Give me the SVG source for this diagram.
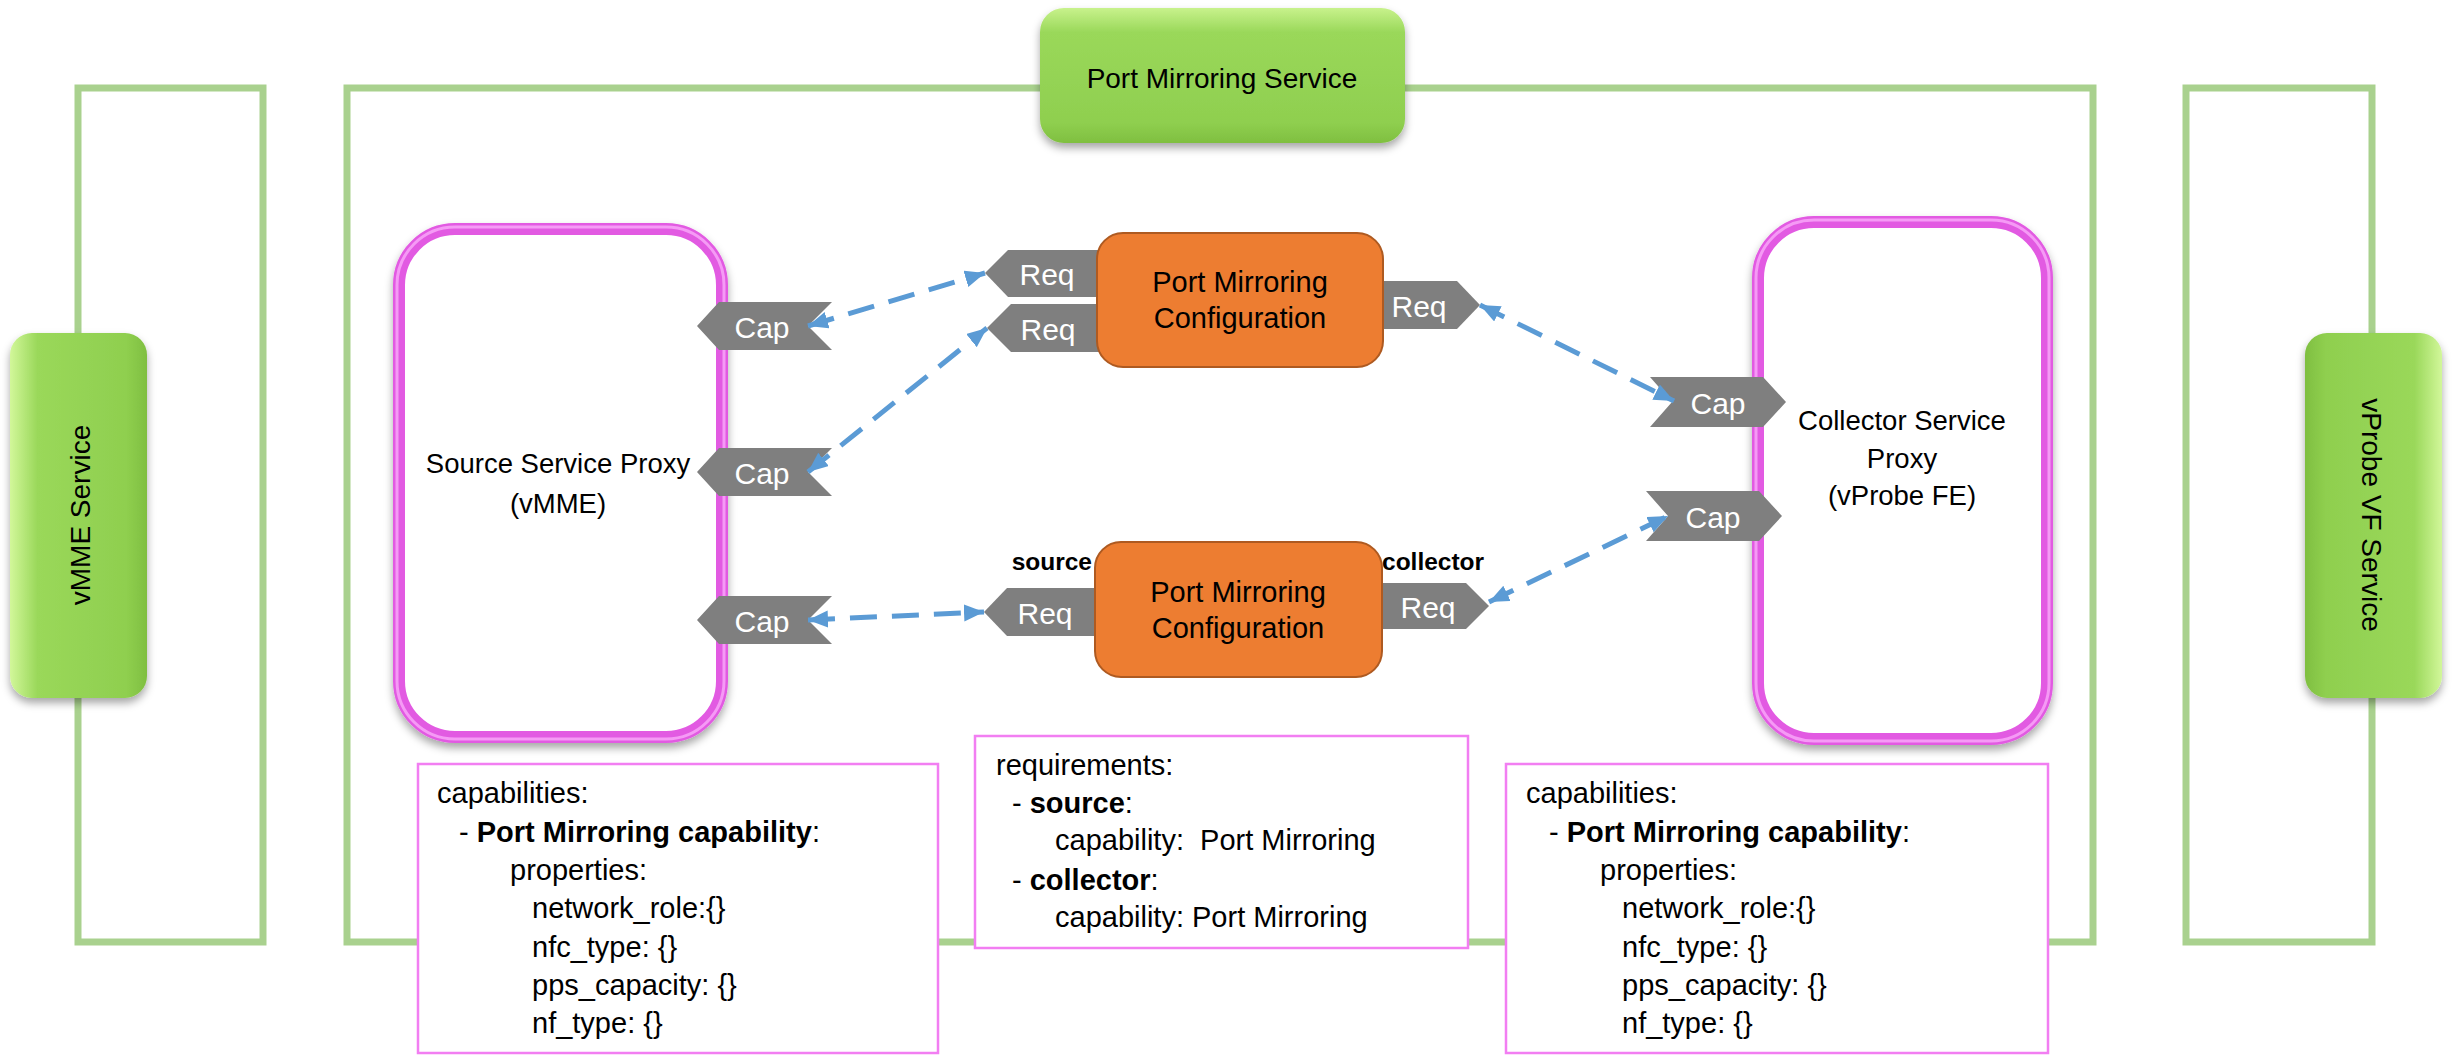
<svg xmlns="http://www.w3.org/2000/svg" width="2453" height="1055" viewBox="0 0 2453 1055">
<style>
text{font-family:"Liberation Sans",Arial,sans-serif;fill:#000}
.frame{fill:none;stroke:#a9d18e;stroke-width:7}
.svc{font-size:28px}
.proxy{fill:none;stroke:#e25ae2;stroke-width:12}
.proxyhl{fill:none;stroke:#f59af5;stroke-width:3}
.ptxt{font-size:27.5px;text-anchor:middle}
.cfg{fill:#ed7d31;stroke:#ae5a21;stroke-width:2}
.ctxt{font-size:29px;text-anchor:middle}
.tag{fill:#7f7f7f}
.ttxt{font-size:30px;fill:#fff;text-anchor:middle}
.box{fill:#fff;stroke:#f27ef2;stroke-width:2.5}
.btxt{font-size:29px;white-space:pre}
.b{font-weight:bold}
.lbl{font-size:24.5px;font-weight:bold}
.conn{fill:none;stroke:#5b9bd5;stroke-width:5;stroke-dasharray:27 15;marker-start:url(#ah);marker-end:url(#ah)}
</style>
<defs>
<linearGradient id="gH" x1="0" y1="0" x2="0" y2="1">
<stop offset="0" stop-color="#c8f28c"/><stop offset="0.18" stop-color="#9ad85a"/><stop offset="0.85" stop-color="#8fcf4f"/><stop offset="1" stop-color="#7fbf40"/>
</linearGradient>
<linearGradient id="gL" x1="0" y1="0" x2="1" y2="0">
<stop offset="0" stop-color="#d2f79a"/><stop offset="0.2" stop-color="#9ad85a"/><stop offset="0.85" stop-color="#8fcf4f"/><stop offset="1" stop-color="#7fbf40"/>
</linearGradient>
<linearGradient id="gR" x1="1" y1="0" x2="0" y2="0">
<stop offset="0" stop-color="#d2f79a"/><stop offset="0.2" stop-color="#9ad85a"/><stop offset="0.85" stop-color="#8fcf4f"/><stop offset="1" stop-color="#7fbf40"/>
</linearGradient>
<filter id="sh" x="-10%" y="-10%" width="120%" height="125%">
<feDropShadow dx="0" dy="5" stdDeviation="4" flood-color="#000" flood-opacity="0.35"/>
</filter>
<marker id="ah" markerUnits="userSpaceOnUse" markerWidth="22" markerHeight="18" refX="20" refY="8.5" orient="auto-start-reverse">
<path d="M0,0 L20,8.5 L0,17 Z" fill="#5b9bd5"/>
</marker>
</defs>

<g id="frames">
<rect class="frame" x="78" y="88" width="185" height="854"/>
<rect class="frame" x="347" y="88" width="1746" height="854"/>
<rect class="frame" x="2186" y="88" width="186" height="854"/>
</g>

<g id="port-mirroring-service">
<rect x="1040" y="8" width="365" height="135" rx="24" fill="url(#gH)" filter="url(#sh)"/>
<text class="svc" x="1222" y="88" text-anchor="middle">Port Mirroring Service</text>
</g>

<g id="vmme-service">
<rect x="10" y="333" width="137" height="365" rx="22" fill="url(#gL)" filter="url(#sh)"/>
<text class="svc" transform="translate(90,515) rotate(-90)" text-anchor="middle">vMME Service</text>
</g>

<g id="vprobe-vf-service">
<rect x="2305" y="333" width="137" height="365" rx="22" fill="url(#gR)" filter="url(#sh)"/>
<text class="svc" transform="translate(2362,515) rotate(90)" text-anchor="middle">vProbe VF Service</text>
</g>

<g id="source-service-proxy">
<rect x="399" y="229" width="323" height="508" rx="56" fill="#fff" stroke="#e25ae2" stroke-width="12" filter="url(#sh)"/>
<rect class="proxyhl" x="397" y="227" width="327" height="512" rx="58"/>
<text class="ptxt" x="558" y="473">Source Service Proxy</text>
<text class="ptxt" x="558" y="513">(vMME)</text>
</g>

<g id="collector-service-proxy">
<rect x="1758" y="222" width="289" height="517" rx="56" fill="#fff" stroke="#e25ae2" stroke-width="12" filter="url(#sh)"/>
<rect class="proxyhl" x="1756" y="220" width="293" height="521" rx="58"/>
<text class="ptxt" x="1902" y="430">Collector Service</text>
<text class="ptxt" x="1902" y="468">Proxy</text>
<text class="ptxt" x="1902" y="505">(vProbe FE)</text>
</g>

<g id="source-caps">
<polygon class="tag" points="697,326 719,302 832,302 808,326 832,350 719,350"/>
<text class="ttxt" x="762" y="338">Cap</text>
<polygon class="tag" points="697,472 719,448 832,448 808,472 832,496 719,496"/>
<text class="ttxt" x="762" y="484">Cap</text>
<polygon class="tag" points="697,620 719,596 832,596 808,620 832,644 719,644"/>
<text class="ttxt" x="762" y="632">Cap</text>
</g>

<g id="collector-caps">
<polygon class="tag" points="1650,377 1763,377 1786,402 1763,427 1650,427 1672,402"/>
<text class="ttxt" x="1718" y="414">Cap</text>
<polygon class="tag" points="1646,491 1759,491 1782,516 1759,541 1646,541 1668,516"/>
<text class="ttxt" x="1713" y="528">Cap</text>
</g>

<g id="port-mirroring-configuration-1">
<polygon class="tag" points="985,273 1008,250 1110,250 1110,297 1008,297"/>
<polygon class="tag" points="987,328 1011,304 1110,304 1110,352 1011,352"/>
<polygon class="tag" points="1360,281 1457,281 1480,305 1457,329 1360,329"/>
<rect class="cfg" x="1097" y="233" width="286" height="134" rx="26"/>
<text class="ctxt" x="1240" y="292">Port Mirroring</text>
<text class="ctxt" x="1240" y="328">Configuration</text>
<text class="ttxt" x="1047" y="285">Req</text>
<text class="ttxt" x="1048" y="340">Req</text>
<text class="ttxt" x="1419" y="317">Req</text>
</g>

<g id="port-mirroring-configuration-2">
<polygon class="tag" points="984,612 1007,588 1108,588 1108,636 1007,636"/>
<polygon class="tag" points="1368,583 1466,583 1489,606 1466,629 1368,629"/>
<rect class="cfg" x="1095" y="542" width="287" height="135" rx="26"/>
<text class="ctxt" x="1238" y="602">Port Mirroring</text>
<text class="ctxt" x="1238" y="638">Configuration</text>
<text class="ttxt" x="1045" y="624">Req</text>
<text class="ttxt" x="1428" y="618">Req</text>
<text class="lbl" x="1092" y="570" text-anchor="end">source</text>
<text class="lbl" x="1382" y="570">collector</text>
</g>

<g id="connectors">
<line class="conn" x1="808" y1="326" x2="985" y2="273"/>
<line class="conn" x1="808" y1="472" x2="987" y2="328"/>
<line class="conn" x1="808" y1="620" x2="984" y2="612"/>
<line class="conn" x1="1480" y1="305" x2="1674" y2="401"/>
<line class="conn" x1="1489" y1="602" x2="1668" y2="516"/>
</g>

<g id="source-capabilities-box">
<rect class="box" x="418" y="764" width="520" height="289"/>
<text class="btxt" x="437" y="803">capabilities:</text>
<text class="btxt" x="459" y="842">- <tspan class="b">Port Mirroring capability</tspan>:</text>
<text class="btxt" x="510" y="880">properties:</text>
<text class="btxt" x="532" y="918">network_role:{}</text>
<text class="btxt" x="532" y="957">nfc_type: {}</text>
<text class="btxt" x="532" y="995">pps_capacity: {}</text>
<text class="btxt" x="532" y="1033">nf_type: {}</text>
</g>

<g id="requirements-box">
<rect class="box" x="975" y="736" width="493" height="212"/>
<text class="btxt" x="996" y="775">requirements:</text>
<text class="btxt" x="1012" y="813">- <tspan class="b">source</tspan>:</text>
<text class="btxt" x="1055" y="850">capability:  Port Mirroring</text>
<text class="btxt" x="1012" y="890">- <tspan class="b">collector</tspan>:</text>
<text class="btxt" x="1055" y="927">capability: Port Mirroring</text>
</g>

<g id="collector-capabilities-box">
<rect class="box" x="1506" y="764" width="542" height="289"/>
<text class="btxt" x="1526" y="803">capabilities:</text>
<text class="btxt" x="1549" y="842">- <tspan class="b">Port Mirroring capability</tspan>:</text>
<text class="btxt" x="1600" y="880">properties:</text>
<text class="btxt" x="1622" y="918">network_role:{}</text>
<text class="btxt" x="1622" y="957">nfc_type: {}</text>
<text class="btxt" x="1622" y="995">pps_capacity: {}</text>
<text class="btxt" x="1622" y="1033">nf_type: {}</text>
</g>
</svg>
